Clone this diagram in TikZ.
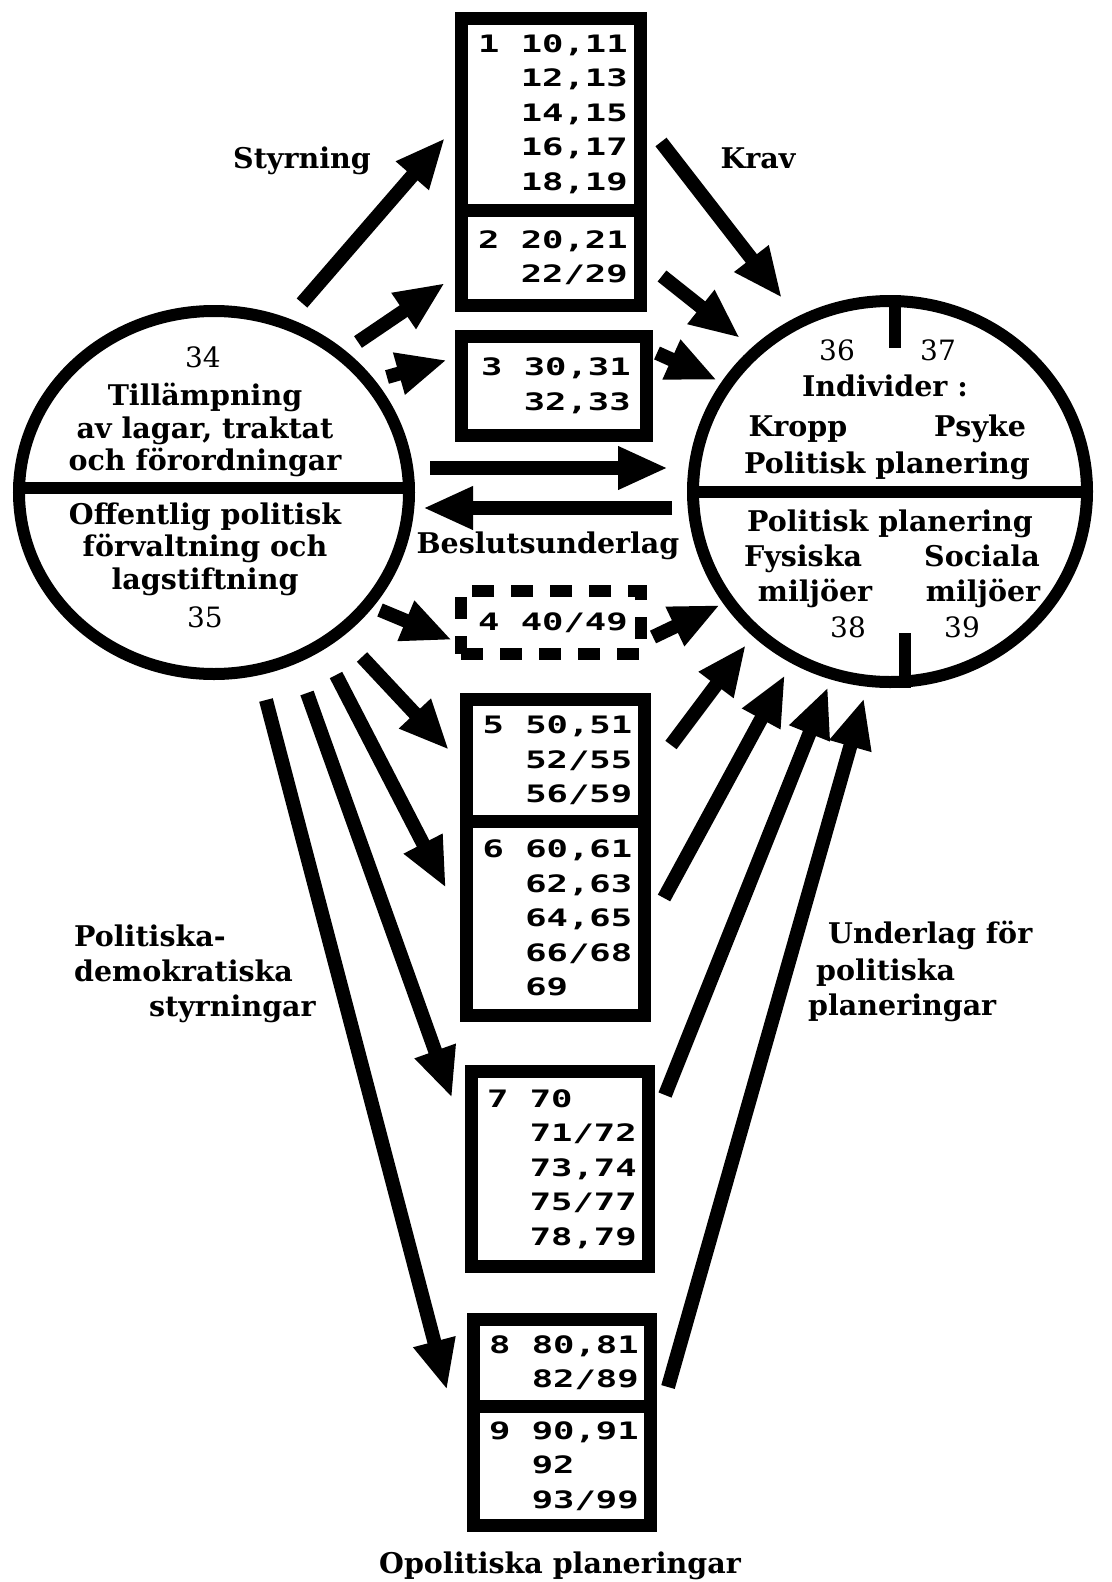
\documentclass[tikz,border=0pt]{standalone}
\usepackage{fontspec}
\setmainfont{DejaVu Serif}
\newfontfamily\boxfont[FakeStretch=1.48]{DejaVu Sans Mono Bold}
\usetikzlibrary{shapes.geometric,arrows.meta}

\newcommand\ind{\phantom{00}}
\newcommand\gap{\hspace*{21.4pt}}

\tikzset{
  ring/.style={draw, ellipse, line width=12pt, inner sep=0pt},
  cell/.style={draw, line width=13pt, minimum width=179pt, inner sep=0pt,
    text width=146pt, align=left, font=\boxfont\fontsize{24}{34.5}\selectfont},
  fat/.style={line width=14pt, -{Triangle[length=50pt,width=40pt]}},
  lab/.style={inner sep=0pt, align=center, font=\bfseries\fontsize{28.5}{32.5}\selectfont},
  word/.style={lab, text height=20pt, text depth=6pt},
  num/.style={inner sep=0pt, text height=20pt, text depth=0pt, font=\fontsize{28}{32}\selectfont},
}

\begin{document}
\begin{tikzpicture}[x=1pt,y=-1pt]

\useasboundingbox (0,0) rectangle (1111,1582);

% the two rings
\node[ring, minimum width=390pt, minimum height=363pt] (lc) at (214,492.5) {};
\node[ring, minimum width=394pt, minimum height=381pt] (rc) at (890,491.5) {};
\draw[line width=12pt] ([yshift=5pt]lc.west) -- ([yshift=5pt]lc.east);
\draw[line width=12pt] (rc.west) -- (rc.east);
\draw[line width=12pt] ([xshift=5pt]rc.north) -- (895,348);
\draw[line width=12pt] ([xshift=15pt]rc.south) -- (905,633);

\node[num] (n34) at (203,357) {34};
\node[lab] (lup) at (205,430) {Tillämpning\\av lagar, traktat\\och förordningar};
\node[lab] (llo) at (205,549) {Offentlig politisk\\förvaltning och\\lagstiftning};
\node[num] (n35) at (205,617) {35};

\node[num] (n36) at (837,350) {36};
\node[num] (n37) at (938,350) {37};
\node[word] (ind) at (885,389) {Individer :};
\node[word] (kro) at (798,429) {Kropp};
\node[word] (psy) at (980,429) {Psyke};
\node[word] (pp1) at (887,466) {Politisk planering};
\node[word] (pp2) at (890,524) {Politisk planering};
\node[word] (fys) at (803,559) {Fysiska};
\node[word] (soc) at (982,559) {Sociala};
\node[word] (mj1) at (815,594) {miljöer};
\node[word] (mj2) at (983,594) {miljöer};
\node[num] (n38) at (848,627) {38};
\node[num] (n39) at (962,627) {39};

% the boxes
\node[cell, minimum height=191.5pt] (b1) at (551,114.25)
  {1\gap 10,11\\\ind 12,13\\\ind 14,15\\\ind 16,17\\\ind 18,19};
\node[cell, minimum height=95.5pt] (b2) at (551,257.75) {2\gap 20,21\\\ind 22/29};
\node[cell, minimum width=185pt, minimum height=99pt] (b3) at (554,386) {3\gap 30,31\\\ind 32,33};
\node[cell, line width=12pt, dash pattern=on 22pt off 17pt, minimum width=180pt, minimum height=63pt]
  (b4) at (551,622.5) {4\gap 40/49};
\node[cell, minimum width=178pt, minimum height=121.5pt] (b5) at (555.5,760.25)
  {5\gap 50,51\\\ind 52/55\\\ind 56/59};
\node[cell, minimum width=178pt, minimum height=194.5pt] (b6) at (555.5,918.25)
  {6\gap 60,61\\\ind 62,63\\\ind 64,65\\\ind 66/68\\\ind 69};
\node[cell, minimum width=177pt, minimum height=195pt] (b7) at (560,1169)
  {7\gap 70\\\ind 71/72\\\ind 73,74\\\ind 75/77\\\ind 78,79};
\node[cell, minimum width=177pt, minimum height=86.5pt] (b8) at (562,1362.75) {8\gap 80,81\\\ind 82/89};
\node[cell, minimum width=177pt, minimum height=119.5pt] (b9) at (562,1465.75)
  {9\gap 90,91\\\ind 92\\\ind 93/99};

%%%%%%%%%%%%%%%%%%%%%%%%%%%%%%%%%%%%%%%%%%%%%%%%%%%%%%%%%%%%%%%%%%%%%%%%%%%
\coordinate (a1) at (302,303);  \coordinate (h1) at (445,138);
\coordinate (a2) at (358,342);  \coordinate (h2) at (445,283);
\coordinate (a3) at (387,377);  \coordinate (h3) at (447,360);
\coordinate (a4) at (661,142);  \coordinate (h4) at (782,298);
\coordinate (a5) at (662,276);  \coordinate (h5) at (740,338);
\coordinate (a6) at (657,353);  \coordinate (h6) at (717,380);
\coordinate (a7) at (430,468);  \coordinate (h7) at (668,468);
\coordinate (a8) at (672,508);  \coordinate (h8) at (423,508);
\coordinate (a9) at (380,610);  \coordinate (h9) at (452,640);
\coordinate (a10) at (653,637); \coordinate (h10) at (720,605);
\coordinate (a11) at (362,657); \coordinate (h11) at (449,750);
\coordinate (a12) at (336,675); \coordinate (h12) at (446,888);
\coordinate (a13) at (307,693); \coordinate (h13) at (452,1098);
\coordinate (a14) at (266,700); \coordinate (h14) at (447,1390);
\coordinate (a15) at (671,745); \coordinate (h15) at (746,645);
\coordinate (a16) at (664,898); \coordinate (h16) at (785,675);
\coordinate (a17) at (665,1095); \coordinate (h17) at (828,687);
\coordinate (a18) at (668,1387); \coordinate (h18) at (864,698);

\draw[fat] (a1) -- (h1);
\draw[fat] (a2) -- (h2);
\draw[fat] (a3) -- (h3);
\draw[fat] (a4) -- (h4);
\draw[fat] (a5) -- (h5);
\draw[fat] (a6) -- (h6);
\draw[fat] (a7) -- (h7);
\draw[fat] (a8) -- (h8);
\draw[fat] (a9) -- (h9);
\draw[fat] (a10) -- (h10);
\draw[fat] (a11) -- (h11);
\draw[fat] (a12) -- (h12);
\draw[fat] (a13) -- (h13);
\draw[fat] (a14) -- (h14);
\draw[fat] (a15) -- (h15);
\draw[fat] (a16) -- (h16);
\draw[fat] (a17) -- (h17);
\draw[fat] (a18) -- (h18);
%%%%%%%%%%%%%%%%%%%%%%%%%%%%%%%%%%%%%%%%%%%%%%%%%%%%%%%%%%%%%%%%%%%%%%%%%%%

\node[word] (sty) at (302,161) {Styrning};
\node[word] (kra) at (758,161) {Krav};
\node[word] (bes) at (548,546) {Beslutsunderlag};
\node[word, anchor=west] (pol) at (74,939) {Politiska-};
\node[word, anchor=west] (dem) at (74,974) {demokratiska};
\node[word, anchor=west] (sty2) at (149,1009) {styrningar};
\node[word, anchor=west] (und) at (828,936) {Underlag för};
\node[word, anchor=west] (pol2) at (816,973) {politiska};
\node[word, anchor=west] (pla) at (808,1008) {planeringar};
\node[word] (opo) at (560,1566) {Opolitiska planeringar};

\end{tikzpicture}
\end{document}
